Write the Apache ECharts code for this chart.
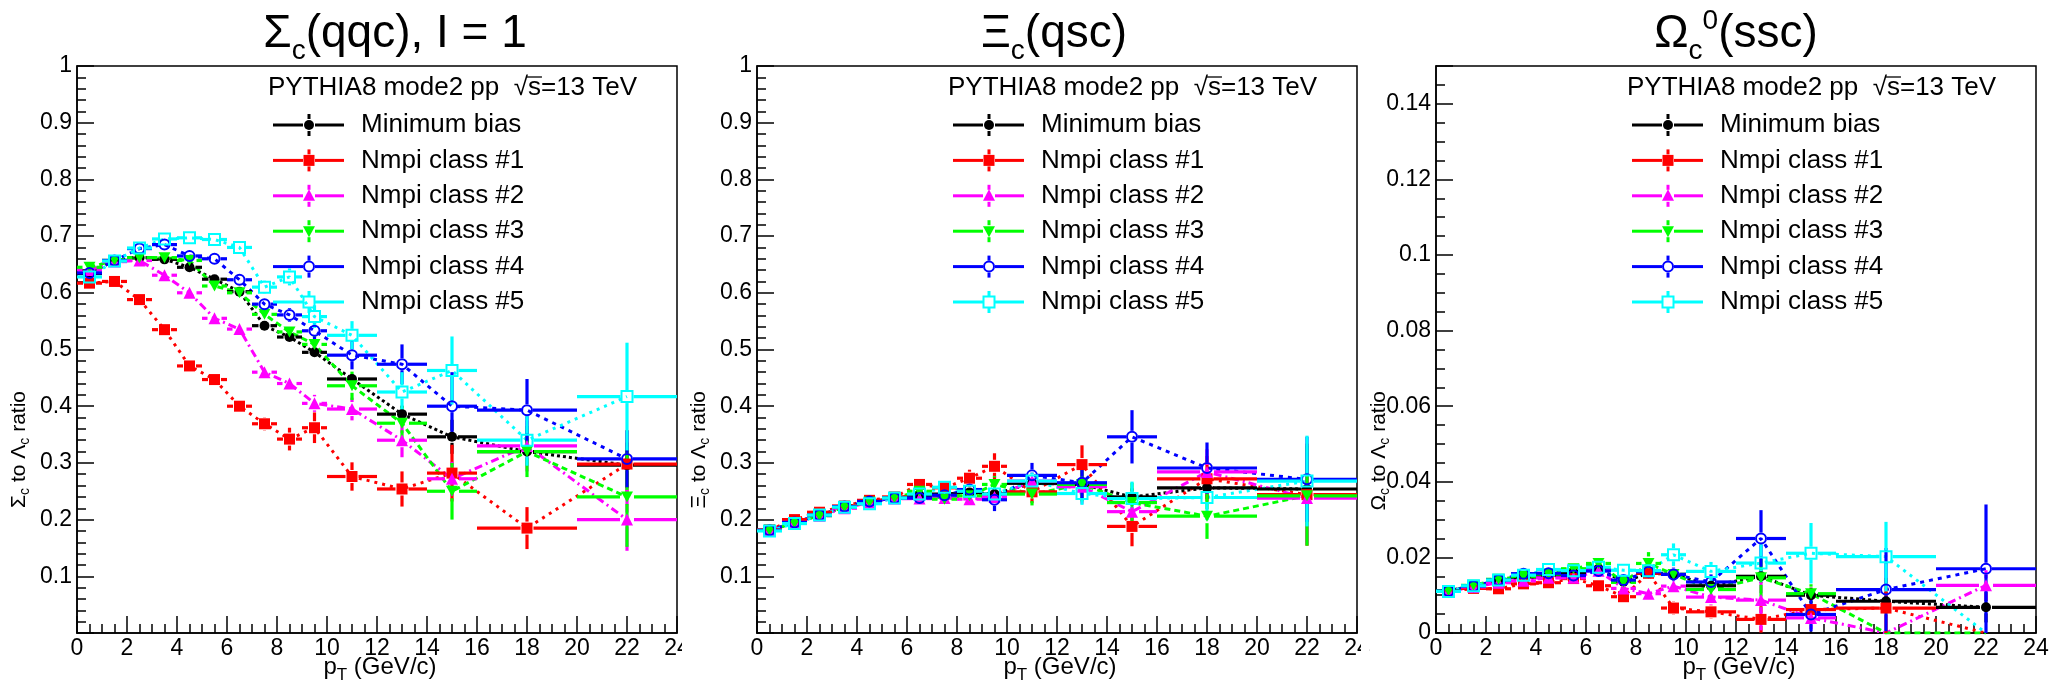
<!DOCTYPE html>
<html><head><meta charset="utf-8">
<script src="https://cdn.jsdelivr.net/npm/echarts@6/dist/echarts.min.js"></script>
<style>html,body{margin:0;padding:0;background:#fff}#c{width:2064px;height:690px}</style>
</head><body><div id="c"></div>
<script>
// ---------------- data ----------------
const ptCenters = [0.5,1.5,2.5,3.5,4.5,5.5,6.5,7.5,8.5,9.5,11,13,15,18,22];
const binLow    = [0,1,2,3,4,5,6,7,8,9,10,12,14,16,20];
const binHigh   = [1,2,3,4,5,6,7,8,9,10,12,14,16,20,24];
const classNames = ['Minimum bias','Nmpi class #1','Nmpi class #2','Nmpi class #3','Nmpi class #4','Nmpi class #5'];
const legendHeader = 'PYTHIA8 mode2 pp';
const legendEnergy = '=13 TeV';

// Sigma_c / Lambda_c
const sigmaMB = [0.634,0.657,0.662,0.659,0.645,0.624,0.602,0.542,0.522,0.495,0.448,0.386,0.346,0.320,0.296];
const sigmaC1 = [0.617,0.620,0.588,0.535,0.471,0.447,0.400,0.369,0.342,0.362,0.276,0.254,0.282,0.185,0.298];
const sigmaC2 = [0.640,0.655,0.657,0.631,0.600,0.555,0.536,0.460,0.440,0.405,0.395,0.340,0.272,0.330,0.200];
const sigmaC3 = [0.645,0.657,0.662,0.662,0.657,0.612,0.600,0.562,0.531,0.509,0.436,0.370,0.250,0.320,0.240];
const sigmaC4 = [0.635,0.657,0.678,0.685,0.665,0.660,0.623,0.580,0.561,0.533,0.490,0.474,0.400,0.393,0.307];
const sigmaC5 = [0.628,0.656,0.679,0.695,0.697,0.694,0.680,0.610,0.628,0.558,0.525,0.425,0.463,0.340,0.417];
const sigmaMBErr = [0.003,0.003,0.003,0.003,0.004,0.004,0.005,0.006,0.007,0.009,0.010,0.015,0.030,0.025,0.040];
const sigmaC1Err = [0.005,0.005,0.006,0.007,0.008,0.009,0.010,0.012,0.020,0.027,0.025,0.031,0.050,0.037,0.060];
const sigmaC2Err = [0.004,0.004,0.005,0.006,0.007,0.008,0.009,0.010,0.012,0.015,0.020,0.030,0.030,0.045,0.055];
const sigmaC3Err = [0.004,0.004,0.005,0.006,0.007,0.008,0.009,0.010,0.012,0.015,0.025,0.030,0.050,0.045,0.088];
const sigmaC4Err = [0.004,0.004,0.005,0.006,0.007,0.008,0.009,0.010,0.012,0.015,0.025,0.035,0.060,0.055,0.050];
const sigmaC5Err = [0.004,0.004,0.005,0.006,0.007,0.008,0.009,0.012,0.015,0.020,0.025,0.035,0.060,0.045,0.095];

// Xi_c / Lambda_c
const xiMB = [0.181,0.195,0.208,0.222,0.231,0.238,0.243,0.245,0.248,0.245,0.264,0.262,0.240,0.256,0.254];
const xiC1 = [0.182,0.200,0.213,0.224,0.234,0.240,0.262,0.256,0.273,0.294,0.249,0.297,0.188,0.272,0.244];
const xiC2 = [0.181,0.195,0.207,0.220,0.230,0.237,0.237,0.238,0.236,0.240,0.268,0.258,0.214,0.284,0.238];
const xiC3 = [0.181,0.194,0.207,0.222,0.231,0.238,0.250,0.236,0.242,0.262,0.245,0.262,0.230,0.206,0.242];
const xiC4 = [0.181,0.195,0.208,0.223,0.232,0.238,0.238,0.243,0.253,0.235,0.278,0.265,0.346,0.291,0.271];
const xiC5 = [0.180,0.193,0.208,0.222,0.228,0.238,0.245,0.257,0.250,0.245,0.268,0.246,0.237,0.239,0.268];
const xiMBErr = [0.002,0.002,0.002,0.003,0.003,0.003,0.004,0.004,0.005,0.006,0.008,0.010,0.015,0.020,0.030];
const xiC1Err = [0.003,0.003,0.004,0.004,0.005,0.006,0.008,0.010,0.015,0.023,0.020,0.034,0.035,0.040,0.090];
const xiC2Err = [0.003,0.003,0.003,0.004,0.004,0.005,0.006,0.008,0.010,0.012,0.015,0.030,0.030,0.040,0.080];
const xiC3Err = [0.003,0.003,0.003,0.004,0.004,0.005,0.006,0.008,0.010,0.015,0.020,0.030,0.035,0.040,0.088];
const xiC4Err = [0.003,0.003,0.003,0.004,0.004,0.005,0.006,0.008,0.010,0.020,0.022,0.030,0.047,0.045,0.075];
const xiC5Err = [0.003,0.003,0.003,0.004,0.004,0.005,0.006,0.008,0.010,0.012,0.015,0.020,0.030,0.040,0.080];

// Omega_c / Lambda_c
const omegaMB = [0.0112,0.0124,0.0138,0.0148,0.0152,0.0160,0.0170,0.0136,0.0158,0.0155,0.0125,0.0150,0.0100,0.0084,0.0068];
const omegaC1 = [0.0110,0.0118,0.0117,0.0130,0.0133,0.0144,0.0125,0.0096,0.0158,0.0066,0.0056,0.0036,0.0062,0.0066,0.0000];
const omegaC2 = [0.0110,0.0122,0.0133,0.0138,0.0146,0.0146,0.0165,0.0118,0.0104,0.0124,0.0095,0.0087,0.0040,0.0000,0.0126];
const omegaC3 = [0.0112,0.0126,0.0142,0.0150,0.0156,0.0170,0.0184,0.0134,0.0184,0.0155,0.0115,0.0146,0.0104,0.0000,0.0000];
const omegaC4 = [0.0111,0.0124,0.0140,0.0157,0.0158,0.0152,0.0164,0.0140,0.0162,0.0155,0.0135,0.0250,0.0049,0.0115,0.0170];
const omegaC5 = [0.0110,0.0125,0.0140,0.0153,0.0168,0.0165,0.0174,0.0166,0.0165,0.0207,0.0163,0.0185,0.0211,0.0202,0.0000];
const omegaMBErr = [0.0003,0.0003,0.0004,0.0004,0.0005,0.0006,0.0007,0.0008,0.0010,0.0012,0.0012,0.0018,0.0020,0.0025,0.0040];
const omegaC1Err = [0.0004,0.0004,0.0005,0.0006,0.0007,0.0008,0.0010,0.0012,0.0015,0.0018,0.0018,0.0035,0.0020,0.0080,0.0000];
const omegaC2Err = [0.0004,0.0004,0.0005,0.0006,0.0007,0.0008,0.0010,0.0012,0.0015,0.0018,0.0020,0.0080,0.0030,0.0000,0.0040];
const omegaC3Err = [0.0004,0.0004,0.0005,0.0006,0.0007,0.0008,0.0010,0.0012,0.0030,0.0018,0.0020,0.0050,0.0025,0.0000,0.0000];
const omegaC4Err = [0.0004,0.0004,0.0005,0.0006,0.0007,0.0008,0.0010,0.0012,0.0015,0.0018,0.0020,0.0075,0.0045,0.0110,0.0170];
const omegaC5Err = [0.0004,0.0004,0.0005,0.0006,0.0007,0.0008,0.0010,0.0012,0.0015,0.0030,0.0025,0.0050,0.0080,0.0092,0.0000];

// ---------------- styles ----------------
const FONT = '"Liberation Sans", Arial, Helvetica, sans-serif';
const colors = ['#000000','#ff0000','#ff00ff','#00ff00','#0000ff','#00ffff'];
const dashes = [[3,3],[3,5],[8,4,2,4],[6,4],[4,5],[3,5]];
const markers = [
  {symbol:'circle', size:10, filled:true},
  {symbol:'rect', size:11, filled:true},
  {symbol:'triangle', size:12, filled:true},
  {symbol:'path://M0,0L10,0L5,9Z', size:[12,11], filled:true},
  {symbol:'circle', size:10, filled:false},
  {symbol:'rect', size:11, filled:false}
];

const PLOT_TOP = 66, PLOT_H = 567, PLOT_W = 600;
const panels = [
  {L:77, vals:[sigmaMB,sigmaC1,sigmaC2,sigmaC3,sigmaC4,sigmaC5], errs:[sigmaMBErr,sigmaC1Err,sigmaC2Err,sigmaC3Err,sigmaC4Err,sigmaC5Err],
   title:[{t:'Σ',s:46},{t:'c',s:28,dy:17},{t:'(qqc), I = 1',s:46}], tcx:395, ysym:'Σ', ytx:19},
  {L:757, vals:[xiMB,xiC1,xiC2,xiC3,xiC4,xiC5], errs:[xiMBErr,xiC1Err,xiC2Err,xiC3Err,xiC4Err,xiC5Err],
   title:[{t:'Ξ',s:46},{t:'c',s:28,dy:17},{t:'(qsc)',s:46}], tcx:1054, ysym:'Ξ', ytx:699},
  {L:1436, vals:[omegaMB,omegaC1,omegaC2,omegaC3,omegaC4,omegaC5], errs:[omegaMBErr,omegaC1Err,omegaC2Err,omegaC3Err,omegaC4Err,omegaC5Err],
   title:[{t:'Ω',s:46},{t:'c',s:28,dy:17},{t:'0',s:28,dy:-13},{t:'(ssc)',s:46}], tcx:1736, ysym:'Ω', ytx:1379}
];

const mctx = document.createElement('canvas').getContext('2d');
function tw(text, size){ mctx.font = size + 'px ' + FONT; return mctx.measureText(text).width; }

function textPieces(parts, x0, cy, z){
  const out = []; let x = x0;
  parts.forEach(p => {
    out.push({type:'text', x:x, y:cy + (p.dy||0), z:z||10,
      style:{text:p.t, font:p.s+'px '+FONT, fill:'#000', align:'left', verticalAlign:'middle', textAlign:'left', textVerticalAlign:'middle'}});
    x += tw(p.t, p.s);
  });
  return {els:out, width:x - x0};
}
function widthOf(parts){ return parts.reduce((a,p)=>a+tw(p.t,p.s),0); }

// ---------------- axes ----------------
const tickStyle = {color:'#000', width:1.5};
const grids = [], xAxes = [], yAxes = [];
panels.forEach((p,i) => {
  grids.push({left:p.L, top:PLOT_TOP, width:PLOT_W, height:PLOT_H, show:true, borderColor:'#000', borderWidth:1.5,
    backgroundColor:'transparent', containLabel:false, outerBoundsMode:'none'});
  xAxes.push({type:'value', gridIndex:i, min:0, max:24, interval:2,
    axisLine:{show:true, onZero:false, lineStyle:tickStyle},
    axisTick:{show:true, inside:true, length:17, lineStyle:tickStyle},
    minorTick:{show:true, splitNumber:4, length:9, lineStyle:tickStyle},
    axisLabel:{fontSize:23, fontFamily:FONT, color:'#000', margin:4, showMinLabel:true, showMaxLabel:true},
    splitLine:{show:false}, minorSplitLine:{show:false}});
});
[0,1].forEach(i => {
  yAxes.push({type:'value', gridIndex:i, min:0, max:1, interval:0.1,
    axisLine:{show:true, onZero:false, lineStyle:tickStyle},
    axisTick:{show:true, inside:true, length:17, lineStyle:tickStyle},
    minorTick:{show:true, splitNumber:5, length:9, lineStyle:tickStyle},
    axisLabel:{fontSize:23, fontFamily:FONT, color:'#000', margin:5, showMaxLabel:true,
      formatter: v => v === 0 ? '' : String(Math.round(v*10)/10)},
    splitLine:{show:false}, minorSplitLine:{show:false}});
});
yAxes.push({type:'value', gridIndex:2, min:0, max:0.15, interval:0.02,
  axisLine:{show:true, onZero:false, lineStyle:tickStyle},
  axisTick:{show:true, inside:true, length:17, lineStyle:tickStyle},
  axisLabel:{fontSize:23, fontFamily:FONT, color:'#000', margin:5, showMaxLabel:true,
    formatter: v => Math.abs(v-0.15) < 1e-9 ? '' : (v === 0 ? '0' : String(Math.round(v*100)/100))},
  splitLine:{show:false}});
yAxes.push({type:'value', gridIndex:2, min:0, max:0.15, interval:0.005, position:'left',
  axisLine:{show:false}, axisTick:{show:true, inside:true, length:9, lineStyle:tickStyle},
  axisLabel:{show:false}, splitLine:{show:false}});

// ---------------- series ----------------
const series = [];
panels.forEach((p,pi) => {
  const yIdx = pi;
  p.vals.forEach((vals,k) => {
    const col = colors[k], mk = markers[k];
    const half = (Array.isArray(mk.size) ? mk.size[0] : mk.size)/2 + 1;
    series.push({type:'line', xAxisIndex:pi, yAxisIndex:yIdx, silent:true, showSymbol:false, symbol:'none',
      data: ptCenters.map((x,i)=>[x, vals[i]]),
      lineStyle:{color:col, width:3, type:dashes[k]}, z:2});
    series.push({type:'custom', xAxisIndex:pi, yAxisIndex:yIdx, silent:true, clip:true, z:3,
      data: ptCenters.map((x,i)=>[x, vals[i], binLow[i], binHigh[i], p.errs[k][i]]),
      renderItem: (params, api) => {
        const x = api.value(0), y = api.value(1), lo = api.value(2), hi = api.value(3), e = api.value(4);
        if (!(y > 0)) return null;
        const c = api.coord([x,y]), pl = api.coord([lo,y]), ph = api.coord([hi,y]);
        const pt = api.coord([x,y+e]), pb = api.coord([x,Math.max(y-e,0)]);
        const st = {stroke:col, lineWidth:3.2, fill:null};
        const ch = [
          {type:'line', shape:{x1:pl[0], y1:c[1], x2:c[0]-half, y2:c[1]}, style:st},
          {type:'line', shape:{x1:c[0]+half, y1:c[1], x2:ph[0], y2:c[1]}, style:st}
        ];
        if (c[1]-pt[1] > half) ch.push({type:'line', shape:{x1:c[0], y1:pt[1], x2:c[0], y2:c[1]-half}, style:st});
        if (pb[1]-c[1] > half) ch.push({type:'line', shape:{x1:c[0], y1:c[1]+half, x2:c[0], y2:pb[1]}, style:st});
        return {type:'group', children:ch};
      }});
    series.push({type:'scatter', xAxisIndex:pi, yAxisIndex:yIdx, silent:true, z:4,
      symbol:mk.symbol, symbolSize:mk.size,
      data: ptCenters.map((x,i)=>[x, vals[i]]).filter(d => d[1] > 0),
      itemStyle: mk.filled ? {color:col, opacity:1} : {color:'rgba(0,0,0,0)', borderColor:col, borderWidth:2, opacity:1}});
  });
});

// ---------------- graphic (titles, axis titles, legend) ----------------
const graphic = [];
function markerEl(k, cx, cy){
  const col = colors[k];
  switch(k){
    case 0: return {type:'circle', shape:{cx, cy, r:5}, style:{fill:col}, z:20};
    case 1: return {type:'rect', shape:{x:cx-5.5, y:cy-5.5, width:11, height:11}, style:{fill:col}, z:20};
    case 2: return {type:'polygon', shape:{points:[[cx-6,cy+5],[cx+6,cy+5],[cx,cy-6.5]]}, style:{fill:col}, z:20};
    case 3: return {type:'polygon', shape:{points:[[cx-6,cy-5],[cx+6,cy-5],[cx,cy+6]]}, style:{fill:col}, z:20};
    case 4: return {type:'circle', shape:{cx, cy, r:5}, style:{fill:null, stroke:col, lineWidth:2}, z:20};
    default: return {type:'rect', shape:{x:cx-5.5, y:cy-5.5, width:11, height:11}, style:{fill:null, stroke:col, lineWidth:2}, z:20};
  }
}
panels.forEach((p,pi) => {
  const L = p.L;
  const tW = widthOf(p.title);
  graphic.push(...textPieces(p.title, p.tcx - tW/2, 34).els);
  const xt = [{t:'p',s:24},{t:'T',s:17,dy:8},{t:' (GeV/c)',s:24}];
  const xW = widthOf(xt);
  graphic.push(...textPieces(xt, L + 303 - xW/2, 667).els);
  const yt = [{t:p.ysym,s:21},{t:'c',s:14,dy:6},{t:' to ',s:21},{t:'Λ',s:21},{t:'c',s:14,dy:6},{t:' ratio',s:21}];
  const yW = widthOf(yt);
  graphic.push({type:'group', x:p.ytx, y:391, rotation:Math.PI/2, children: textPieces(yt, -yW, 0).els});
  const hx = L + 191, hy = 88;
  const h1 = legendHeader + '  ';
  const hp = textPieces([{t:h1,s:26},{t:'√',s:26},{t:'s',s:26},{t:legendEnergy,s:26}], hx, hy);
  graphic.push(...hp.els);
  const sx = hx + tw(h1 + '√',26), sw = tw('s',26);
  graphic.push({type:'line', shape:{x1:sx-1, y1:hy-11, x2:sx+sw+1, y2:hy-11}, style:{stroke:'#000', lineWidth:1.3}, z:10});
  classNames.forEach((nm,k) => {
    const y = 125 + 35.4*k, col = colors[k];
    const mx = L + 232;
    graphic.push({type:'line', shape:{x1:L+196, y1:y, x2:mx-6, y2:y}, style:{stroke:col, lineWidth:3}, z:19});
    graphic.push({type:'line', shape:{x1:mx+6, y1:y, x2:L+267, y2:y}, style:{stroke:col, lineWidth:3}, z:19});
    graphic.push({type:'line', shape:{x1:mx, y1:y-11, x2:mx, y2:y-6}, style:{stroke:col, lineWidth:3}, z:19});
    graphic.push({type:'line', shape:{x1:mx, y1:y+6, x2:mx, y2:y+11}, style:{stroke:col, lineWidth:3}, z:19});
    graphic.push(markerEl(k, mx, y));
    graphic.push(...textPieces([{t:nm,s:26}], L + 284, y).els);
  });
});
graphic.push({type:'rect', shape:{x:682, y:636, width:8, height:28}, style:{fill:'#fff'}, z:50});
graphic.push({type:'rect', shape:{x:1361, y:636, width:8, height:28}, style:{fill:'#fff'}, z:50});

const chart = echarts.init(document.getElementById('c'), null, {renderer:'canvas', width:2064, height:690});
chart.setOption({animation:false, backgroundColor:'#fff', grid:grids, xAxis:xAxes, yAxis:yAxes, series, graphic});
</script></body></html>
